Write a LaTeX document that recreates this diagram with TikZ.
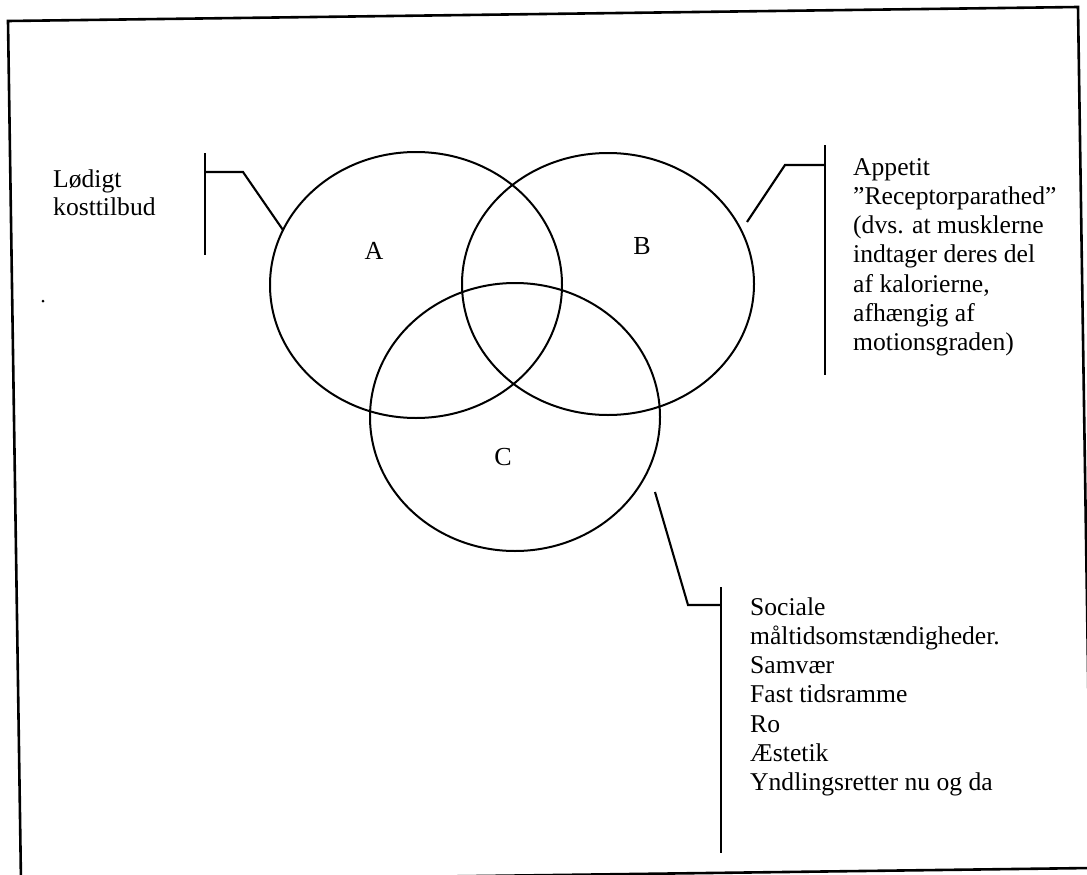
\documentclass[tikz,border=0pt]{standalone}
\usepackage{fontspec}
\setmainfont{Liberation Serif}
\usetikzlibrary{shapes.geometric}
\tikzset{
  venn/.style={draw=black, line width=2pt, ellipse, inner sep=0pt},
  lbl/.style={inner sep=0pt, anchor=base, font=\fontsize{26}{29.3}\selectfont},
  txt/.style={inner sep=0pt, anchor=base west, font=\fontsize{25.6}{29.3}\selectfont},
  callout/.style={line width=2.1pt, line join=miter},
  frame/.style={line width=2.6pt}
}
\newcommand{\blockA}[1]{\begin{tabular}[t]{@{}l@{}}#1\end{tabular}}
\begin{document}
\begin{tikzpicture}[x=1pt,y=-1pt]
\useasboundingbox (0,0) rectangle (1087,875);
\begin{scope}
\clip (0,0) rectangle (1087,875);
\draw[frame] (8,21) -- (1078,7) -- (1091,868) -- (21,882) -- cycle;
\end{scope}
\fill (43,301) circle (1.5);

% circles
\node[venn, minimum width=292, minimum height=266] (cA) at (416,285) {};
\node[venn, minimum width=292, minimum height=262] (cB) at (608,284) {};
\node[venn, minimum width=290, minimum height=268] (cC) at (515,417) {};

\node[lbl] (lA) at (374,259) {A};
\node[lbl] (lB) at (642,254) {B};
\node[lbl] (lC) at (503,465) {C};

% callout A
\coordinate (a1) at (205,153);
\coordinate (a2) at (205,255);
\coordinate (a3) at (205,172);
\coordinate (a4) at (243,172);
\coordinate (a5) at (283,230);
\draw[callout] (a1) -- (a2);
\draw[callout] (a3) -- (a4) -- (a5);
\node[txt] (tA) at (53,187) {\fontsize{25.6}{28}\selectfont\blockA{Lødigt\\kosttilbud}};

% callout B
\coordinate (b1) at (825,145);
\coordinate (b2) at (825,375);
\coordinate (b3) at (825,165);
\coordinate (b4) at (785,165);
\coordinate (b5) at (747,222);
\draw[callout] (b1) -- (b2);
\draw[callout] (b3) -- (b4) -- (b5);
\node[txt] (tB) at (853,175) {\blockA{Appetit\\”Receptorparathed”\\(dvs. at musklerne\\indtager deres del\\af kalorierne,\\afhængig af\\motionsgraden)}};

% callout C
\coordinate (c1) at (655,492);
\coordinate (c2) at (688,605);
\coordinate (c3) at (721,605);
\coordinate (c4) at (721,587);
\coordinate (c5) at (721,853);
\draw[callout] (c1) -- (c2) -- (c3);
\draw[callout] (c4) -- (c5);
\node[txt] (tC) at (750,615) {\blockA{Sociale\\måltidsomstændigheder.\\Samvær\\Fast tidsramme\\Ro\\Æstetik\\Yndlingsretter nu og da}};
\end{tikzpicture}
\end{document}
